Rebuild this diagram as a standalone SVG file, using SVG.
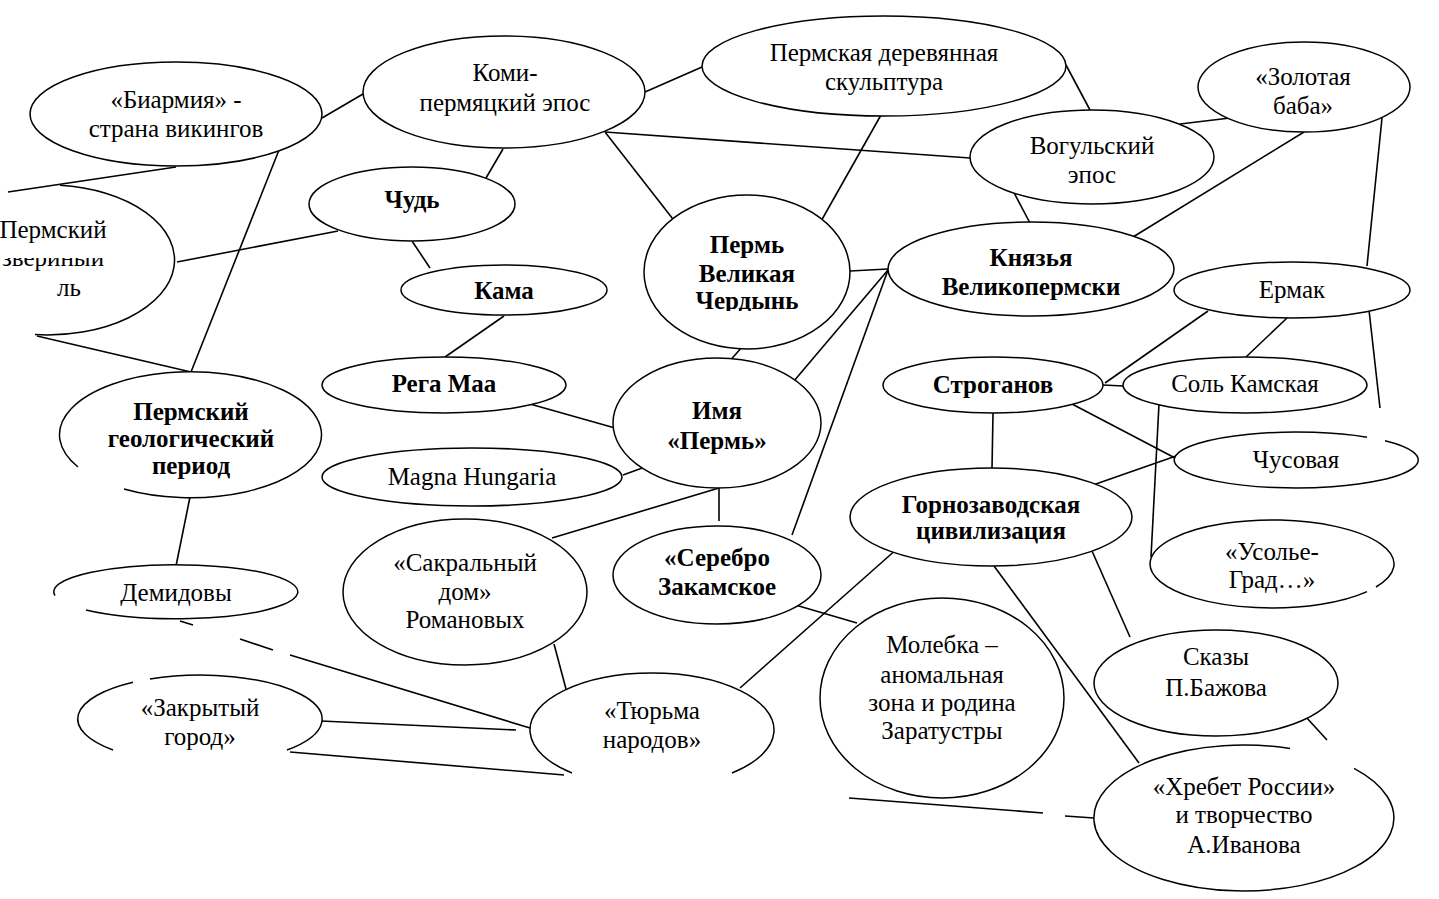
<svg xmlns="http://www.w3.org/2000/svg" width="1439" height="899" viewBox="0 0 1439 899">
<style>
.n ellipse,.n path{fill:#fff;stroke:#000;stroke-width:1.5}
#connectors line{stroke:#000;stroke-width:1.6}
text{font-family:"Liberation Serif","Times New Roman",serif;font-size:25px;text-anchor:middle;fill:#000}
.b{font-weight:bold}
</style>
<defs>
<clipPath id="cz"><rect x="0" y="258" width="200" height="30"/></clipPath>
<clipPath id="cc"><rect x="600" y="180" width="300" height="131"/></clipPath>
</defs>
<rect width="1439" height="899" fill="#fff"/>
<g id="connectors">
<line x1="322" y1="118" x2="363" y2="94"/>
<line x1="645" y1="92" x2="702" y2="67"/>
<line x1="605" y1="132" x2="970" y2="158"/>
<line x1="605" y1="132" x2="676" y2="223"/>
<line x1="503" y1="149" x2="486" y2="178"/>
<line x1="1066" y1="65" x2="1090" y2="110"/>
<line x1="881" y1="115" x2="820" y2="223"/>
<line x1="1180" y1="124" x2="1230" y2="118"/>
<line x1="1012" y1="189" x2="1030" y2="223"/>
<line x1="1304" y1="132" x2="1133" y2="237"/>
<line x1="1382" y1="118" x2="1367" y2="266"/>
<line x1="1369" y1="310" x2="1380" y2="408"/>
<line x1="8" y1="192" x2="176" y2="167"/>
<line x1="279" y1="150" x2="191" y2="372"/>
<line x1="338" y1="231" x2="177" y2="262"/>
<line x1="37" y1="336" x2="191" y2="372"/>
<line x1="412" y1="241" x2="430" y2="268"/>
<line x1="504" y1="316" x2="445" y2="357"/>
<line x1="850" y1="271" x2="888" y2="269"/>
<line x1="750" y1="338" x2="720" y2="372"/>
<line x1="888" y1="270" x2="788" y2="388"/>
<line x1="888" y1="270" x2="792" y2="535"/>
<line x1="530" y1="404" x2="615" y2="428"/>
<line x1="623" y1="475" x2="645" y2="467"/>
<line x1="719" y1="488" x2="719" y2="521"/>
<line x1="719" y1="488" x2="552" y2="538"/>
<line x1="554" y1="644" x2="566" y2="689"/>
<line x1="792" y1="604" x2="857" y2="623"/>
<line x1="898" y1="548" x2="740" y2="688"/>
<line x1="993" y1="413" x2="992" y2="468"/>
<line x1="1103" y1="385" x2="1123" y2="386"/>
<line x1="1105" y1="383" x2="1208" y2="311"/>
<line x1="1287" y1="318" x2="1246" y2="357"/>
<line x1="1072" y1="404" x2="1177" y2="459"/>
<line x1="1093" y1="485" x2="1176" y2="456"/>
<line x1="1159" y1="404" x2="1151" y2="557"/>
<line x1="1092" y1="551" x2="1130" y2="637"/>
<line x1="994" y1="566" x2="1139" y2="763"/>
<line x1="1306" y1="717" x2="1327" y2="740"/>
<line x1="849" y1="798" x2="1043" y2="813"/>
<line x1="1065" y1="816" x2="1094" y2="818"/>
<line x1="190" y1="497" x2="176" y2="566"/>
<line x1="180" y1="621" x2="193" y2="625"/>
<line x1="240" y1="639" x2="273" y2="650"/>
<line x1="290" y1="655" x2="530" y2="728"/>
<line x1="321" y1="721" x2="516" y2="730"/>
<line x1="290" y1="752" x2="564" y2="775"/>
</g>
<g id="n-biarmia" class="n"><ellipse cx="176" cy="114" rx="146" ry="52"/><text x="176" y="108">«Биармия» -</text><text x="176" y="137">страна викингов</text></g>
<g id="n-komi" class="n"><ellipse cx="504" cy="92" rx="141" ry="56"/><text x="505" y="81">Коми-</text><text x="505" y="111">пермяцкий эпос</text></g>
<g id="n-skulptura" class="n"><ellipse cx="884" cy="66" rx="182" ry="50"/><text x="884" y="61">Пермская деревянная</text><text x="884" y="90">скульптура</text></g>
<g id="n-zolotaya" class="n"><ellipse cx="1304" cy="87" rx="106" ry="45"/><text x="1303" y="85">«Золотая</text><text x="1303" y="114">баба»</text></g>
<g id="n-vogul" class="n"><ellipse cx="1092" cy="157" rx="122" ry="47"/><text x="1092" y="154">Вогульский</text><text x="1092" y="183">эпос</text></g>
<g id="n-chud" class="n"><ellipse cx="412" cy="204" rx="103" ry="37"/><text class="b" x="412" y="208">Чудь</text></g>
<g id="n-zverinyi" class="n"><path d="M60,185.3 A127,75 0 0 1 35,334.6"/><text x="53" y="238">Пермский</text><text x="53" y="266" clip-path="url(#cz)">звериный</text><text x="57" y="296" style="text-anchor:start">ль</text></g>
<g id="n-kama" class="n"><ellipse cx="504" cy="290" rx="103" ry="25"/><text class="b" x="504" y="299">Кама</text></g>
<g id="n-cherdyn" class="n"><ellipse cx="747" cy="272" rx="103" ry="77"/><g clip-path="url(#cc)"><text class="b" x="747" y="253">Пермь</text><text class="b" x="747" y="282">Великая</text><text class="b" x="747" y="309">Чердынь</text></g></g>
<g id="n-knyazya" class="n"><ellipse cx="1031" cy="269" rx="143" ry="47"/><text class="b" x="1031" y="266">Князья</text><text class="b" x="1031" y="295">Великопермски</text></g>
<g id="n-ermak" class="n"><ellipse cx="1292" cy="290" rx="118" ry="28"/><text x="1292" y="298">Ермак</text></g>
<g id="n-stroganov" class="n"><ellipse cx="993" cy="385" rx="110" ry="28"/><text class="b" x="993" y="393">Строганов</text></g>
<g id="n-solkamsk" class="n"><ellipse cx="1245" cy="385" rx="122" ry="28"/><text x="1245" y="392">Соль Камская</text></g>
<g id="n-chusovaya" class="n"><path d="M1385,440.8 A122,28 0 1 1 1367,437.2"/><text x="1296" y="468">Чусовая</text></g>
<g id="n-regamaa" class="n"><ellipse cx="444" cy="385" rx="122" ry="28"/><text class="b" x="444" y="392">Рега Маа</text></g>
<g id="n-imya" class="n"><ellipse cx="717" cy="423" rx="104" ry="65"/><text class="b" x="717" y="419">Имя</text><text class="b" x="717" y="449">«Пермь»</text></g>
<g id="n-geolog" class="n"><path d="M78,467 A131,63 0 1 1 124,489"/><text class="b" x="191" y="420">Пермский</text><text class="b" x="191" y="447">геологический</text><text class="b" x="191" y="474">период</text></g>
<g id="n-magna" class="n"><ellipse cx="472" cy="477" rx="150" ry="29"/><text x="472" y="485">Magna Hungaria</text></g>
<g id="n-gornozav" class="n"><ellipse cx="991" cy="517" rx="141" ry="49"/><text class="b" x="991" y="513">Горнозаводская</text><text class="b" x="991" y="539">цивилизация</text></g>
<g id="n-sakral" class="n"><ellipse cx="465" cy="592" rx="122" ry="73"/><text x="465" y="571">«Сакральный</text><text x="465" y="600">дом»</text><text x="465" y="628">Романовых</text></g>
<g id="n-serebro" class="n"><ellipse cx="717" cy="575" rx="104" ry="49"/><text class="b" x="717" y="566">«Серебро</text><text class="b" x="717" y="595">Закамское</text></g>
<g id="n-usolye" class="n"><path d="M1376,587 A122,44 0 1 0 1367,591.6"/><text x="1272" y="560">«Усолье-</text><text x="1272" y="588">Град…»</text></g>
<g id="n-demidovy" class="n"><path d="M55,595.5 A122,27 0 1 1 86,610"/><text x="176" y="601">Демидовы</text></g>
<g id="n-zakrytyi" class="n"><path d="M133,682.2 A122,44 0 0 0 113,750"/><path d="M150,679 A122,44 0 0 1 287,750"/><text x="200" y="716">«Закрытый</text><text x="200" y="745">город»</text></g>
<g id="n-tyurma" class="n"><path d="M572,773 A122,57 0 1 1 732,773"/><text x="652" y="719">«Тюрьма</text><text x="652" y="748">народов»</text></g>
<g id="n-molebka" class="n"><ellipse cx="942" cy="698" rx="122" ry="100"/><text x="942" y="653">Молебка –</text><text x="942" y="683">аномальная</text><text x="942" y="711">зона и родина</text><text x="942" y="739">Заратустры</text></g>
<g id="n-bazhov" class="n"><ellipse cx="1216" cy="683" rx="122" ry="53"/><text x="1216" y="665">Сказы</text><text x="1216" y="696">П.Бажова</text></g>
<g id="n-khrebet" class="n"><path d="M1354,768.4 A150,73 0 1 1 1290,748.5"/><text x="1244" y="795">«Хребет России»</text><text x="1244" y="823">и творчество</text><text x="1244" y="853">А.Иванова</text></g>
</svg>
